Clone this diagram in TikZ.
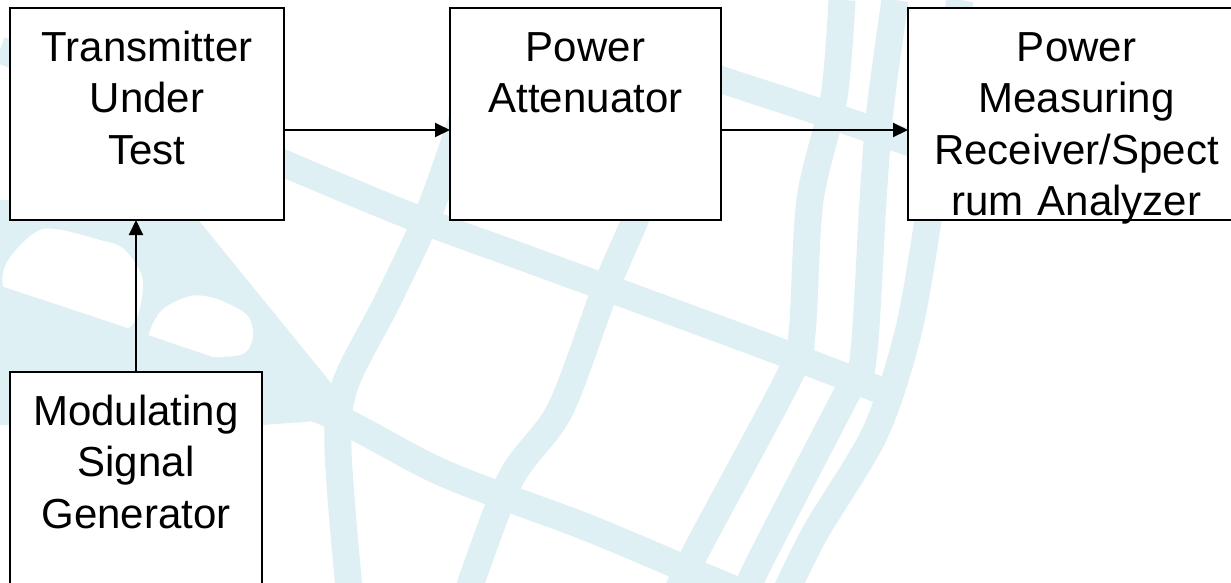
\documentclass[tikz,border=0pt]{standalone}
\usepackage{fontspec}
\setmainfont{Liberation Sans}
\usetikzlibrary{arrows.meta}
\definecolor{globe}{RGB}{223,240,245}
\begin{document}
\begin{tikzpicture}[x=1pt,y=-1pt,
  blockbox/.style={draw=black,line width=2pt,fill=white,rectangle,inner sep=0pt,outer sep=0pt,anchor=north west},
  lbl/.style={font=\fontsize{42}{51.5}\selectfont,align=center,text width=#1,anchor=base,inner sep=0pt},
  conn/.style={line width=2pt,-{Triangle[length=15pt,width=14pt]}},
  band/.style={draw=globe,line width=27pt,line join=round},
  land/.style={fill=white}]
\useasboundingbox (0,0) rectangle (1231,582);
\begin{scope}
\clip (0,0) rectangle (1231,582);
\fill[white] (0,0) rectangle (1231,582);
% globe watermark: shaded area left of the crossing
\fill[globe] (0,200) -- (190,200) -- (200,222) -- (327,378) -- (358,418) -- (262,425) -- (0,425) -- cycle;
\fill[land] plot[smooth cycle] coordinates {(7,262) (43,229) (100,240) (125,250) (143,282) (128,328) (60,312) (7,292)};
\fill[land] plot[smooth cycle] coordinates {(148,346) (160,312) (190,296) (217,299) (247,315) (253,337) (240,355) (187,356)};
% meridians and parallels
\draw[band] plot[smooth] coordinates {(960,0) (940,120) (928,220) (908,333) (875,433) (815,533) (782,600)};
\draw[band] plot[smooth] coordinates {(895,0) (880,110) (873,200) (863,360) (845,397) (757,567) (745,600)};
\draw[band] plot[smooth] coordinates {(842,0) (834,97) (810,200) (802,333) (789,377) (693,557) (675,600)};
\draw[band] plot[smooth] coordinates {(665,140) (635,220) (605,290) (560,410) (510,480) (465,600)};
\draw[band] plot[smooth] coordinates {(465,110) (430,210) (388,300) (345,385) (338,450) (350,600)};
\draw[band] plot[smooth] coordinates {(600,40) (722,80) (820,112) (925,148)};
\draw[band] plot[smooth] coordinates {(0,50) (150,105) (283,163) (413,217) (525,258) (757,343) (885,392)};
\draw[band] plot[smooth] coordinates {(0,300) (150,350) (320,410) (443,473) (586,527) (700,575) (760,600)};
% blocks
\node[blockbox,minimum width=274pt,minimum height=212pt] (tx) at (10,8) {};
\node[blockbox,minimum width=271pt,minimum height=212pt] (att) at (450,8) {};
\node[blockbox,minimum width=337pt,minimum height=212pt] (meas) at (908,8) {};
\node[blockbox,minimum width=252pt,minimum height=240pt] (mod) at (10,372) {};
\end{scope}
% labels
\node[lbl=260pt] (txl) at ([yshift=-53pt]tx.north) {Transmitter\\Under\\Test};
\node[lbl=260pt] (attl) at ([yshift=-53pt]att.north) {Power\\Attenuator};
\node[lbl=330pt] (measl) at ([yshift=-53pt]meas.north) {Power\\Measuring\\Receiver/Spect\\rum Analyzer};
\node[lbl=245pt] (modl) at ([yshift=-53pt]mod.north) {Modulating\\Signal\\Generator};
% connectors
\draw[conn] ([yshift=-16pt]tx.east) -- ([yshift=-16pt]att.west);
\draw[conn] ([yshift=-16pt]att.east) -- ([yshift=-16pt]att.east -| meas.west);
\draw[conn] (mod.north) -- (mod.north |- tx.south);
\end{tikzpicture}
\end{document}
